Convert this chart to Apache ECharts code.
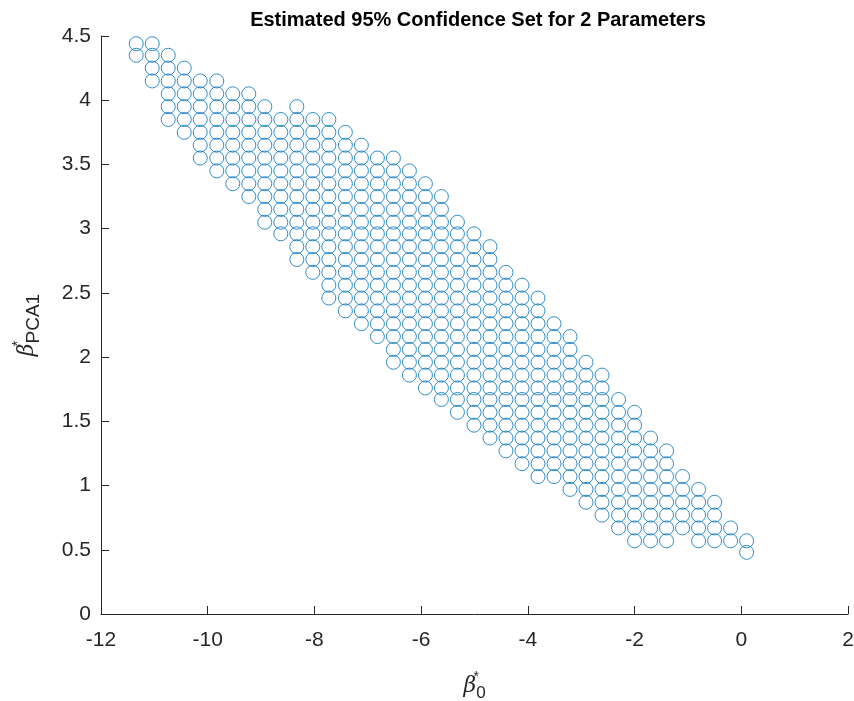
<!DOCTYPE html>
<html>
<head>
<meta charset="utf-8">
<script src="https://cdn.jsdelivr.net/npm/echarts@6/dist/echarts.min.js"></script>
<style>
  html, body { margin: 0; padding: 0; background: #fff; }
  #main { width: 854px; height: 701px; }
</style>
</head>
<body>
<div id="main"></div>
<script>
// grid values of beta0 (columns) and beta_PCA1 (rows)
const beta0Grid = [-11.34, -11.04, -10.74, -10.44, -10.14, -9.83, -9.53, -9.23, -8.93, -8.63,
  -8.33, -8.03, -7.73, -7.42, -7.12, -6.82, -6.52, -6.22, -5.92, -5.62,
  -5.32, -5.01, -4.71, -4.41, -4.11, -3.81, -3.51, -3.21, -2.91, -2.61,
  -2.30, -2.00, -1.70, -1.40, -1.10, -0.80, -0.50, -0.20, 0.10]
const betaPcaGrid = [4.44, 4.35, 4.25, 4.15, 4.05, 3.95, 3.85, 3.75, 3.65, 3.55,
  3.45, 3.35, 3.25, 3.15, 3.05, 2.96, 2.86, 2.76, 2.66, 2.56,
  2.46, 2.36, 2.26, 2.16, 2.06, 1.96, 1.86, 1.76, 1.67, 1.57,
  1.47, 1.37, 1.27, 1.17, 1.07, 0.97, 0.87, 0.77, 0.67, 0.57, 0.48]
// for each beta0 column: first and last row (index into betaPcaGrid) inside the set
const colTop = [0, 0, 1, 2, 3, 3, 4, 4, 5, 6, 5, 6, 6, 7, 8, 9, 9, 10, 11, 12,
  14, 15, 16, 18, 19, 20, 22, 23, 25, 26, 28, 29, 31, 32, 34, 35, 36, 38, 39]
const colBottom = [1, 3, 6, 7, 9, 10, 11, 12, 14, 15, 17, 18, 20, 21, 22, 23, 25, 26, 27, 28,
  29, 30, 31, 32, 33, 34, 34, 35, 36, 37, 38, 39, 39, 39, 38, 39, 39, 39, 40]

const xMin = -12, xMax = 2, xStep = 2
const yMin = 0, yMax = 4.5, yStep = 0.5

const points = []
beta0Grid.forEach((b0, j) => {
  for (let k = colTop[j]; k <= colBottom[j]; k++) {
    points.push([b0, betaPcaGrid[k]])
  }
})

const chart = echarts.init(document.getElementById('main'))

const textColor = '#262626'
const font = 'Liberation Sans, Arial, Helvetica, sans-serif'

const option = {
  animation: false,
  backgroundColor: '#fff',
  title: {
    text: 'Estimated 95% Confidence Set for 2 Parameters',
    left: 473, top: 5, textAlign: 'center',
    textStyle: { fontFamily: font, fontWeight: 'bold', fontSize: 20, color: '#000' }
  },
  grid: { left: 101, right: 6, top: 36, bottom: 87, containLabel: false, outerBoundsMode: 'none' },
  xAxis: {
    type: 'value', min: xMin, max: xMax, interval: xStep,
    splitLine: { show: false },
    axisLine: { onZero: false, lineStyle: { color: textColor, width: 1 } },
    axisTick: { inside: true, length: 8, lineStyle: { color: textColor } },
    axisLabel: { fontFamily: font, fontSize: 21, color: textColor, margin: 16 },
    name: '{b|β}{s|*}{sub|0}',
    nameLocation: 'middle', nameGap: 56,
    nameTextStyle: {
      rich: {
        b: { fontFamily: 'DejaVu Serif', fontStyle: 'italic', fontSize: 22, color: textColor, lineHeight: 32, verticalAlign: 'middle' },
        s: { fontFamily: font, fontSize: 14, color: textColor, width: 0, verticalAlign: 'top' },
        sub: { fontFamily: font, fontSize: 17, color: textColor, verticalAlign: 'bottom' }
      }
    }
  },
  yAxis: {
    type: 'value', min: yMin, max: yMax, interval: yStep,
    splitLine: { show: false },
    axisLine: { onZero: false, lineStyle: { color: textColor, width: 1 } },
    axisTick: { inside: true, length: 8, lineStyle: { color: textColor } },
    axisLabel: { fontFamily: font, fontSize: 21, color: textColor, margin: 10 },
    name: '{b|β}{s|*}{sub|PCA1}',
    nameLocation: 'middle', nameGap: 58, nameRotate: 90,
    nameTextStyle: {
      rich: {
        b: { fontFamily: 'DejaVu Serif', fontStyle: 'italic', fontSize: 22, color: textColor, lineHeight: 32, verticalAlign: 'middle' },
        s: { fontFamily: font, fontSize: 14, color: textColor, width: 0, verticalAlign: 'top' },
        sub: { fontFamily: font, fontSize: 19, color: textColor, verticalAlign: 'bottom' }
      }
    }
  },
  series: [{
    type: 'scatter',
    data: points,
    symbol: 'circle',
    symbolSize: 14,
    itemStyle: { color: 'rgba(0,0,0,0)', borderColor: '#0072BD', borderWidth: 1 }
  }]
}

chart.setOption(option)
</script>
</body>
</html>
